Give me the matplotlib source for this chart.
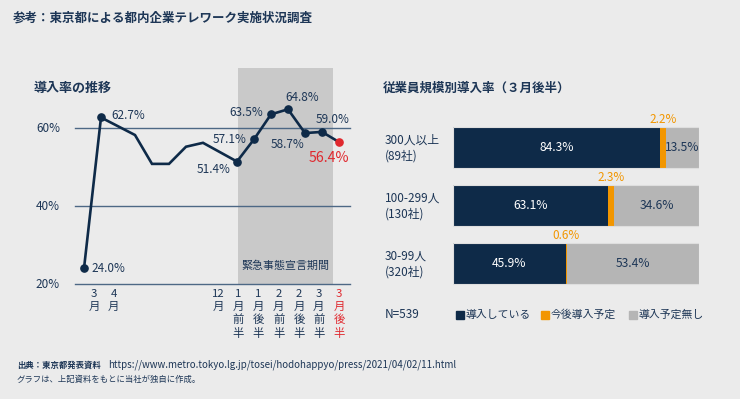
import matplotlib
matplotlib.use("Agg")
import matplotlib.pyplot as plt
from matplotlib.patches import Rectangle

plt.rcParams['font.family'] = ['Noto Sans CJK JP', 'DejaVu Sans']

# ---- data: left chart (telework rate over time) ----
slot = [0, 1, 3, 4, 5, 6, 7, 9, 10, 11, 12, 13, 14, 15]
rate = [24.0, 62.7, 58.2, 50.8, 50.8, 55.2, 56.2, 51.4, 57.1, 63.5, 64.8, 58.7, 59.0, 56.4]
marked = [True, True, False, False, False, False, False, True, True, True, True, True, True, True]
tick_lbl = ['3\n月', '4\n月', '12\n月', '1\n月\n前\n半', '1\n月\n後\n半',
            '2\n月\n前\n半', '2\n月\n後\n半', '3\n月\n前\n半', '3\n月\n後\n半']
yticks = [20, 40, 60]
emergency = (9.05, 14.65)

# ---- data: right chart (by company size, late March) ----
groups = ['300人以上\n(89社)', '100-299人\n(130社)', '30-99人\n(320社)']
adopted = [84.3, 63.1, 45.9]
planned = [2.2, 2.3, 0.6]
no_plan = [13.5, 34.6, 53.4]
series_names = ['導入している', '今後導入予定', '導入予定無し']

# ---- layout / styles ----
W, H = 740, 399
BG = '#ebebeb'
NAVY = '#0e2a48'
TXT = '#1d3656'
ORANGE = '#f29600'
GRAY = '#b5b5b5'
SHADE = '#c9c9c9'
RED = '#e0282e'
GRID = '#4d6885'

tick_pos = [0.6, 1.75, 7.9, 9.05, 10.25, 11.45, 12.65, 13.8, 15.0]
# label offsets in pixels for the marked points (dx, dy, ha)
lbl_off = [(7, 0, 'left'), (10, 2, 'left'), (-6, -8, 'right'), (-7, 0, 'right'),
           (-8, 2, 'right'), (14, 12, 'center'), (-17, -11, 'center'),
           (11, 12, 'center'), (-10, -16, 'center')]


def fx(x):
    return x / W


def fy(y):
    return 1 - y / H


fig = plt.figure(figsize=(7.4, 3.99), dpi=100, facecolor=BG)

# titles
fig.text(fx(13), fy(18), '参考：東京都による都内企業テレワーク実施状況調査',
         fontsize=9.0, fontweight='bold', color=TXT, va='center')
fig.text(fx(33), fy(88), '導入率の推移', fontsize=9.4, fontweight='bold', color=TXT, va='center')
fig.text(fx(383), fy(88), '従業員規模別導入率（３月後半）', fontsize=9.0,
         fontweight='bold', color=TXT, va='center')

# ---- left line chart ----
ax = fig.add_axes([fx(75), fy(284), (350 - 75) / W, (284 - 68) / H])
ax.set_facecolor('none')
ax.set_xlim((75 - 84) / 17, (350 - 84) / 17)
ax.set_ylim(20, 20 + 216 / 3.9)
ax.axis('off')

ax.axvspan(emergency[0], emergency[1], color=SHADE, zorder=0, lw=0)
ax.text(sum(emergency) / 2 - 0.03, 24.6, '緊急事態宣言期間', fontsize=7.9, color=TXT,
        ha='center', va='center')
for v in yticks:
    ax.axhline(v, color=GRID, lw=1.0, zorder=1, clip_on=False)
    ax.text(-1.41, v, f'{v}%', fontsize=8.5, color=TXT, ha='right', va='center')

ax.plot(slot, rate, color=NAVY, lw=1.9, zorder=3, solid_joinstyle='miter')
mx = [s for s, m in zip(slot, marked) if m]
my = [r for r, m in zip(rate, marked) if m]
ax.plot(mx[:-1], my[:-1], 'o', color=NAVY, ms=5.2, zorder=4)
ax.plot(mx[-1], my[-1], 'o', color=RED, ms=5.2, zorder=4)

for i, (x, y) in enumerate(zip(mx, my)):
    dx, dy, ha = lbl_off[i]
    last = i == len(mx) - 1
    ax.annotate(f'{y:.1f}%', (x, y), xytext=(dx, dy), textcoords='offset pixels',
                ha=ha, va='center', fontsize=10.2 if last else 8.5,
                color=RED if last else TXT, zorder=5)

for i, (p, t) in enumerate(zip(tick_pos, tick_lbl)):
    ax.text(p, 18.6, t, fontsize=8.2, color=RED if i == len(tick_lbl) - 1 else TXT,
            ha='center', va='top', linespacing=1.3, clip_on=False)

# ---- right stacked bar chart ----
bx = fig.add_axes([fx(452.7), fy(101.6 + 208.8), (699 - 452.7) / W, 208.8 / H])
bx.set_facecolor('none')
bx.set_xlim(0, 100)
bx.set_ylim(2.8, -0.8)
bx.axis('off')

ypos = list(range(len(groups)))
bh = 41 / 58
left2 = [a + p for a, p in zip(adopted, planned)]
bx.barh(ypos, adopted, height=bh, color=NAVY, lw=0)
bx.barh(ypos, planned, left=adopted, height=bh, color=ORANGE, lw=0)
bx.barh(ypos, no_plan, left=left2, height=bh, color=GRAY, lw=0)
for i in ypos:
    bx.add_patch(Rectangle((0, i - bh / 2), 100, bh, fill=False, ec='#dedede', lw=0.8))
    bx.text(adopted[i] / 2, i, f'{adopted[i]:.1f}%', color='white', fontsize=8.7,
            ha='center', va='center')
    bx.text(adopted[i] + planned[i] / 2, i - bh / 2 - 0.13, f'{planned[i]:.1f}%',
            color=ORANGE, fontsize=8.5, ha='center', va='center')
    bx.text(left2[i] + no_plan[i] / 2, i, f'{no_plan[i]:.1f}%', color=TXT,
            fontsize=8.7, ha='center', va='center')

for i, g in enumerate(groups):
    fig.text(fx(385), fy(148 + 58 * i), g, fontsize=8.5, color=TXT, ha='left',
             va='center', linespacing=1.25)

# legend
fig.text(fx(385), fy(315), 'N=539', fontsize=8.5, color=TXT, va='center')
for name, c, sx in zip(series_names, [NAVY, ORANGE, GRAY], [456, 541, 629]):
    fig.patches.append(Rectangle((fx(sx), fy(319)), 8 / W, 8 / H, color=c,
                                 transform=fig.transFigure, figure=fig))
    fig.text(fx(sx + 9.5), fy(315), name, fontsize=7.8, color=TXT, va='center')

# footer
fig.text(fx(17), fy(365), '出典：東京都発表資料', fontsize=6.0, fontweight='bold',
         color=TXT, va='center')
fig.text(fx(108), fy(365), 'https://www.metro.tokyo.lg.jp/tosei/hodohappyo/press/2021/04/02/11.html',
         fontsize=7.0, color=TXT, va='center')
fig.text(fx(17), fy(379), 'グラフは、上記資料をもとに当社が独自に作成。', fontsize=6.0,
         color=TXT, va='center')

fig.savefig('out.png', dpi=100, facecolor=BG)
